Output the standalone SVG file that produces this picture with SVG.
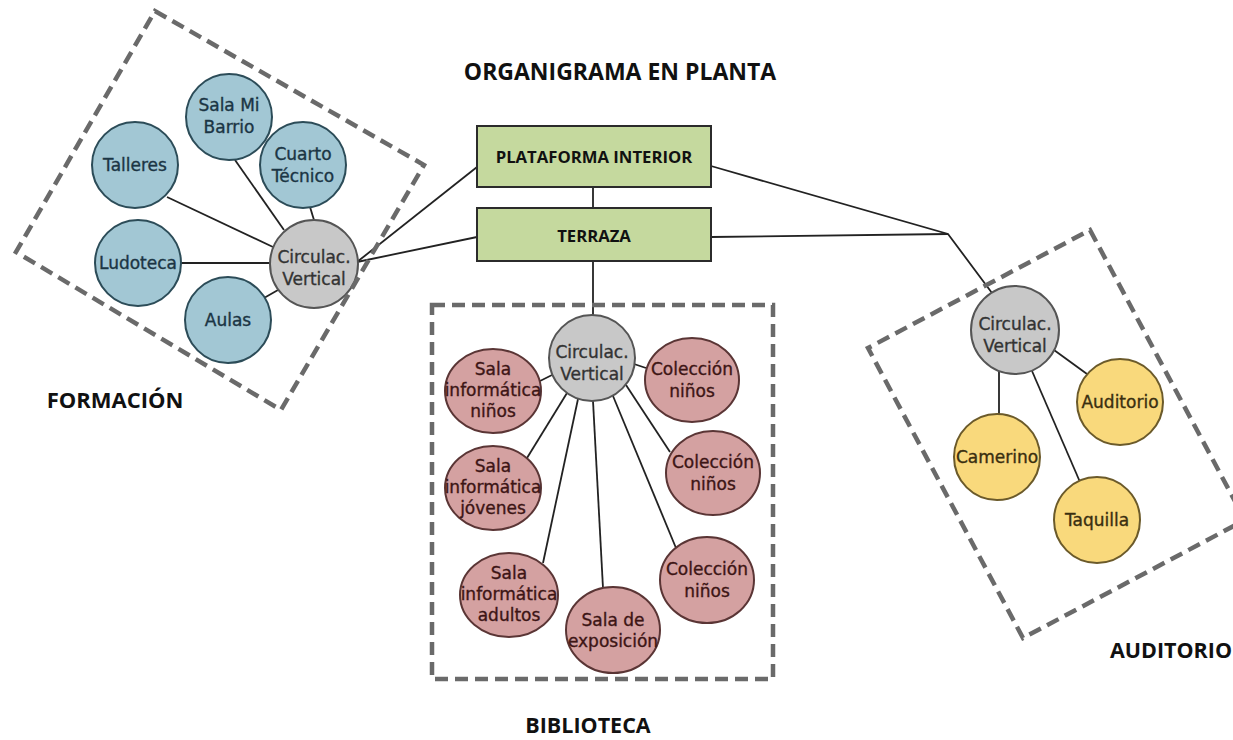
<svg xmlns="http://www.w3.org/2000/svg" width="1233" height="740" viewBox="0 0 1233 740">
<style>
.bg{fill:#ffffff}
.title{font-family:"Open Sans","Liberation Sans",sans-serif;font-weight:bold;fill:#111;text-anchor:middle}
.big{font-size:23px}
.lbl{font-size:21.5px}
.boxtxt{font-size:16.7px}
.conn line,.conn polyline{stroke:#222;stroke-width:1.8;fill:none}
.dash{fill:none;stroke:#6a6a6a;stroke-width:4.5;stroke-dasharray:13 7}
.ct{font-family:"DejaVu Sans","Liberation Sans",sans-serif;font-size:17px;text-anchor:middle;stroke-width:0.35}
.blue{fill:#a2c7d4;stroke:#2c4c58;stroke-width:2}
.blue-t{fill:#1b3544;stroke:#1b3544}
.gray{fill:#c8c8c8;stroke:#555;stroke-width:2}
.gray-t{fill:#333;stroke:#333}
.pink{fill:#d4a1a1;stroke:#5a3535;stroke-width:2}
.pink-t{fill:#3d1515;stroke:#3d1515}
.yel{fill:#f9d97c;stroke:#6b5a2a;stroke-width:2}
.yel-t{fill:#3a2f10;stroke:#3a2f10}
.green{fill:#c5d99e;stroke:#2b2b2b;stroke-width:2}
</style>
<rect class="bg" x="0" y="0" width="1233" height="740"/>

<text class="title big" x="620" y="80">ORGANIGRAMA EN PLANTA</text>

<g id="connectors" class="conn">
  <line x1="593" y1="187" x2="593" y2="208"/>
  <line x1="593" y1="261" x2="593" y2="315"/>
  <line x1="357" y1="262" x2="477" y2="167"/>
  <line x1="357" y1="262" x2="477" y2="237"/>
  <polyline points="711,166 948,234 992,293"/>
  <line x1="711" y1="237" x2="948" y2="234"/>
  <line x1="167" y1="197" x2="273" y2="247"/>
  <line x1="235" y1="160" x2="284" y2="230"/>
  <line x1="310" y1="207" x2="314" y2="220"/>
  <line x1="181" y1="263" x2="270" y2="263"/>
  <line x1="264" y1="298" x2="278" y2="290"/>
  <line x1="552" y1="375" x2="540" y2="381"/>
  <line x1="634" y1="364" x2="646" y2="368"/>
  <line x1="567" y1="393" x2="527" y2="458"/>
  <line x1="578" y1="399" x2="543" y2="563"/>
  <line x1="593" y1="401" x2="603" y2="588"/>
  <line x1="613" y1="396" x2="676" y2="548"/>
  <line x1="626" y1="385" x2="670" y2="452"/>
  <line x1="999" y1="371" x2="999" y2="414"/>
  <line x1="1032" y1="371" x2="1080" y2="482"/>
  <line x1="1054" y1="350" x2="1087" y2="374"/>
</g>

<g id="plataforma">
  <rect class="green" x="477" y="126" width="234" height="61"/>
  <text class="title boxtxt" x="594" y="163">PLATAFORMA INTERIOR</text>
</g>
<g id="terraza">
  <rect class="green" x="477" y="208" width="234" height="53"/>
  <text class="title boxtxt" x="594" y="242">TERRAZA</text>
</g>

<g id="f-talleres">
  <circle class="blue" cx="135" cy="165" r="43"/>
  <text class="ct blue-t" x="135" y="171">Talleres</text>
</g>
<g id="f-salamibarrio">
  <circle class="blue" cx="229" cy="117" r="43"/>
  <text class="ct blue-t" x="229" y="111">Sala Mi<tspan x="229" dy="22">Barrio</tspan></text>
</g>
<g id="f-cuarto">
  <circle class="blue" cx="303" cy="165" r="43"/>
  <text class="ct blue-t" x="303" y="160">Cuarto<tspan x="303" dy="22">Técnico</tspan></text>
</g>
<g id="f-ludoteca">
  <circle class="blue" cx="138" cy="263" r="43"/>
  <text class="ct blue-t" x="138" y="269">Ludoteca</text>
</g>
<g id="f-aulas">
  <circle class="blue" cx="228" cy="320" r="43"/>
  <text class="ct blue-t" x="228" y="326">Aulas</text>
</g>
<g id="f-circ">
  <circle class="gray" cx="314" cy="264" r="44"/>
  <text class="ct gray-t" x="314" y="263">Circulac.<tspan x="314" dy="22">Vertical</tspan></text>
</g>

<g id="b-circ">
  <circle class="gray" cx="592" cy="358" r="43"/>
  <text class="ct gray-t" x="592" y="358">Circulac.<tspan x="592" dy="22">Vertical</tspan></text>
</g>
<g id="b-inf-ninos">
  <ellipse class="pink" cx="493" cy="391" rx="48" ry="42"/>
  <text class="ct pink-t" x="493" y="375">Sala<tspan x="493" dy="21">informática</tspan><tspan x="493" dy="21">niños</tspan></text>
</g>
<g id="b-inf-jovenes">
  <ellipse class="pink" cx="493" cy="488" rx="48" ry="42"/>
  <text class="ct pink-t" x="493" y="472">Sala<tspan x="493" dy="21">informática</tspan><tspan x="493" dy="21">jóvenes</tspan></text>
</g>
<g id="b-inf-adultos">
  <ellipse class="pink" cx="509" cy="595" rx="49" ry="42"/>
  <text class="ct pink-t" x="509" y="579">Sala<tspan x="509" dy="21">informática</tspan><tspan x="509" dy="21">adultos</tspan></text>
</g>
<g id="b-exposicion">
  <ellipse class="pink" cx="613" cy="630" rx="47" ry="43"/>
  <text class="ct pink-t" x="613" y="626">Sala de<tspan x="613" dy="21">exposición</tspan></text>
</g>
<g id="b-col1">
  <ellipse class="pink" cx="692" cy="380" rx="47" ry="42"/>
  <text class="ct pink-t" x="692" y="375">Colección<tspan x="692" dy="22">niños</tspan></text>
</g>
<g id="b-col2">
  <ellipse class="pink" cx="713" cy="473" rx="47" ry="42"/>
  <text class="ct pink-t" x="713" y="468">Colección<tspan x="713" dy="22">niños</tspan></text>
</g>
<g id="b-col3">
  <ellipse class="pink" cx="707" cy="580" rx="47" ry="43"/>
  <text class="ct pink-t" x="707" y="575">Colección<tspan x="707" dy="22">niños</tspan></text>
</g>

<g id="a-circ">
  <circle class="gray" cx="1015" cy="330" r="44"/>
  <text class="ct gray-t" x="1015" y="330">Circulac.<tspan x="1015" dy="22">Vertical</tspan></text>
</g>
<g id="a-auditorio">
  <circle class="yel" cx="1120" cy="402" r="43"/>
  <text class="ct yel-t" x="1120" y="408">Auditorio</text>
</g>
<g id="a-camerino">
  <circle class="yel" cx="997" cy="457" r="43"/>
  <text class="ct yel-t" x="997" y="463">Camerino</text>
</g>
<g id="a-taquilla">
  <circle class="yel" cx="1097" cy="520" r="43"/>
  <text class="ct yel-t" x="1097" y="526">Taquilla</text>
</g>

<g id="formacion-group">
  <polygon class="dash" points="155,11 424,165 281,410 16,252"/>
  <text class="title" x="115" y="408" font-size="22" style="font-size:22px">FORMACIÓN</text>
</g>
<g id="biblioteca-group">
  <rect class="dash" x="432" y="305" width="341" height="374"/>
  <text class="title lbl" x="588" y="733">BIBLIOTECA</text>
</g>
<g id="auditorio-group">
  <polygon class="dash" points="1090,230 1245,520 1023,638 868,348"/>
  <text class="title lbl" x="1171" y="658">AUDITORIO</text>
</g>
</svg>
